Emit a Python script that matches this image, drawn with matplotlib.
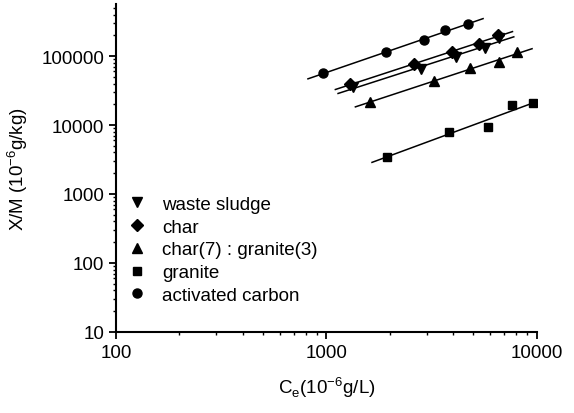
import numpy as np
import matplotlib.pyplot as plt
from matplotlib.ticker import FixedLocator, FixedFormatter, LogLocator, NullFormatter

plt.rcParams['font.family'] = ['Liberation Sans', 'DejaVu Sans']

# Ce (10^-6 g/L) and X/M (10^-6 g/kg)
ce_sludge = [1336, 2812, 4121, 5700, 6625]
xm_sludge = [35900, 63900, 97700, 131800, 184000]

ce_char = [1297, 2618, 3945, 5321, 6530]
xm_char = [38800, 77400, 115300, 152000, 200500]

ce_mix = [1615, 3243, 4822, 6625, 8090]
xm_mix = [21500, 43300, 67800, 81600, 113800]

ce_granite = [1937, 3845, 5838, 7652, 9640]
xm_granite = [3490, 7930, 9360, 19460, 20600]

ce_ac = [961, 1923, 2904, 3681, 4733]
xm_ac = [55900, 113800, 169900, 237000, 293000]

names = ['waste sludge', 'char', 'char(7) : granite(3)', 'granite', 'activated carbon']
markers = ['v', 'D', '^', 's', 'o']
msizes = [7.5, 6, 7, 5.5, 6.5]

xt = [100, 1000, 10000]
yt = [10, 100, 1000, 10000, 100000]

fig = plt.figure(figsize=(5.74, 4.14), dpi=100)
ax = fig.add_axes([0.202, 0.196, 0.733, 0.792])

sets = [(ce_sludge, xm_sludge), (ce_char, xm_char), (ce_mix, xm_mix),
        (ce_granite, xm_granite), (ce_ac, xm_ac)]

for (x, y), name, m, ms in zip(sets, names, markers, msizes):
    lx = np.log10(x)
    ly = np.log10(y)
    k, b = np.polyfit(lx, ly, 1)
    xs = np.linspace(lx.min() - 0.07, lx.max() + 0.07, 10)
    ax.plot(10 ** xs, 10 ** (k * xs + b), color='black', lw=1.1)
    ax.plot(x, y, ls='none', marker=m, ms=ms, color='black', label=name)

ax.set_xscale('log')
ax.set_yscale('log')
ax.set_xlim(100, 10000)
ax.set_ylim(10, 5.7e5)

ax.xaxis.set_major_locator(FixedLocator(xt))
ax.xaxis.set_major_formatter(FixedFormatter([str(v) for v in xt]))
ax.yaxis.set_major_locator(FixedLocator(yt))
ax.yaxis.set_major_formatter(FixedFormatter([str(v) for v in yt]))
ax.xaxis.set_minor_locator(LogLocator(base=10, subs=np.arange(2, 10)))
ax.yaxis.set_minor_locator(LogLocator(base=10, subs=np.arange(2, 10)))
ax.xaxis.set_minor_formatter(NullFormatter())
ax.yaxis.set_minor_formatter(NullFormatter())

for s in ['top', 'right']:
    ax.spines[s].set_visible(False)
for s in ['left', 'bottom']:
    ax.spines[s].set_linewidth(1.5)

ax.tick_params(which='major', direction='out', length=5, width=1.3, labelsize=13.5)
ax.tick_params(which='minor', direction='out', length=2.5, width=1)

ax.set_xlabel('C$_\\mathregular{e}$(10$^\\mathregular{-6}$g/L)', fontsize=13.5, labelpad=10)
ax.set_ylabel('X/M (10$^\\mathregular{-6}$g/kg)', fontsize=13.5, labelpad=8)

ax.legend(loc='upper left', bbox_to_anchor=(0.017, 0.415), frameon=False,
          fontsize=13.5, handletextpad=0.6, labelspacing=0.3, handlelength=1.5,
          borderpad=0, borderaxespad=0)

fig.savefig('out.png', dpi=100)
